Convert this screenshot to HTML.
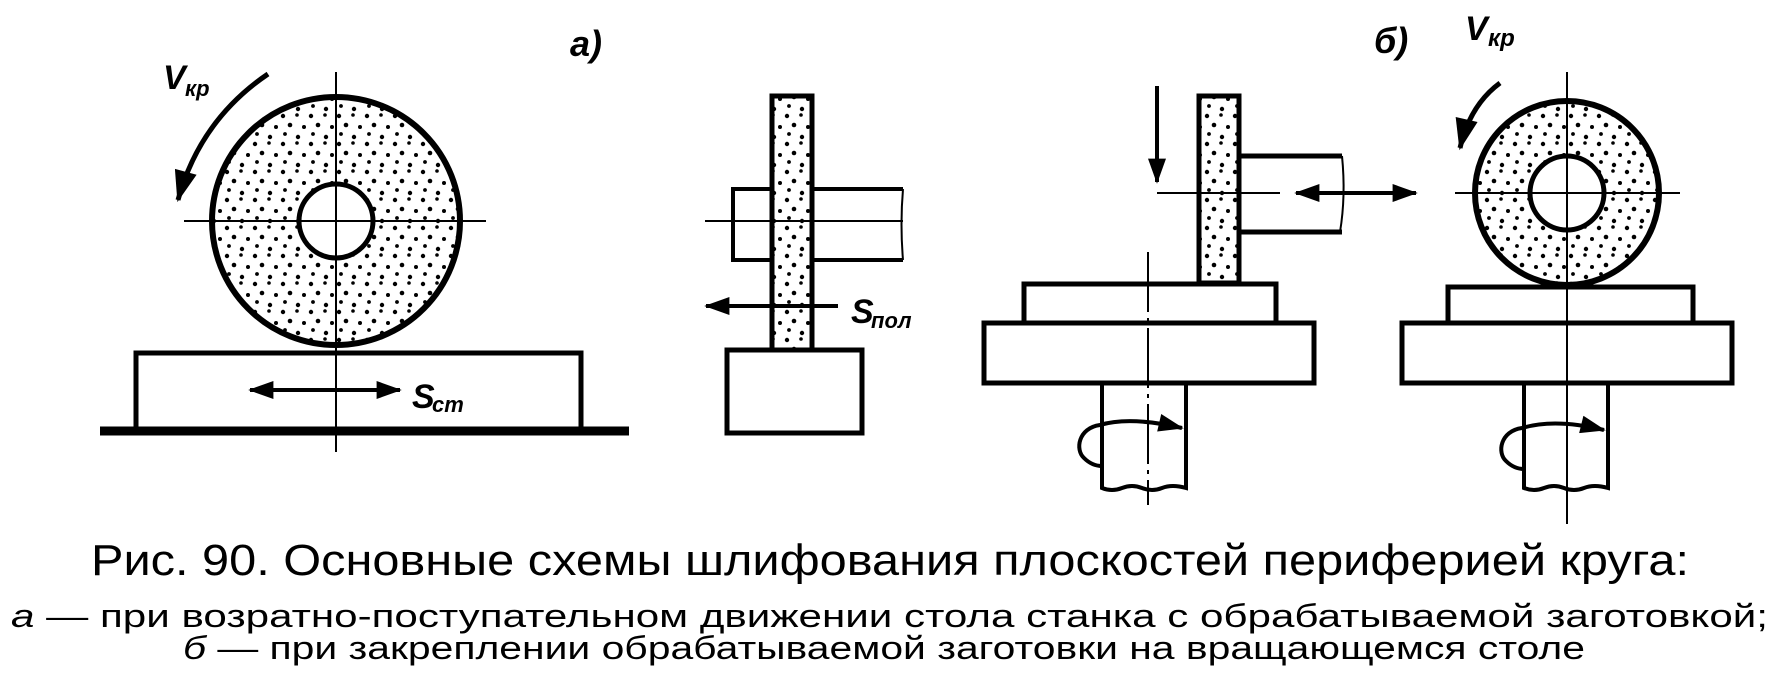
<!DOCTYPE html>
<html><head><meta charset="utf-8"><style>
html,body{margin:0;padding:0;background:#fff;width:1776px;height:688px;overflow:hidden}
svg{display:block}
text{font-family:"Liberation Sans",sans-serif;fill:#000}
</style></head><body>
<svg width="1776" height="688" viewBox="0 0 1776 688" xmlns="http://www.w3.org/2000/svg">
<defs>
<pattern id="dots" width="28" height="28" patternUnits="userSpaceOnUse">
<circle cx="3" cy="4" r="2.2"/><circle cx="17" cy="3" r="1.8"/><circle cx="10" cy="13" r="2.3"/>
<circle cx="24" cy="15" r="2"/><circle cx="5" cy="22" r="1.9"/><circle cx="18" cy="25" r="2.2"/>
</pattern>
<marker id="ah" viewBox="0 0 14 10" refX="13" refY="5" markerWidth="8" markerHeight="4.5" orient="auto-start-reverse" markerUnits="strokeWidth">
<path d="M0,0 L14,5 L0,10 Z"/></marker>
</defs>
<g fill="none" stroke="#000">
<!-- a) left wheel -->
<circle cx="336" cy="221" r="124" fill="url(#dots)" stroke-width="6"/>
<circle cx="336" cy="221" r="37" fill="#fff" stroke-width="5"/>
<line x1="184" y1="221" x2="486" y2="221" stroke-width="2"/>
<line x1="336" y1="72" x2="336" y2="452" stroke-width="2"/>
<rect x="136" y="353" width="445" height="78" stroke-width="5" fill="#fff"/>
<line x1="336" y1="350" x2="336" y2="452" stroke-width="2"/>
<line x1="100" y1="431" x2="629" y2="431" stroke-width="9"/>
<path d="M268,74 Q200,120 178,200" stroke-width="5" marker-end="url(#ah)"/>
<line x1="250" y1="390" x2="400" y2="390" stroke-width="4" marker-start="url(#ah)" marker-end="url(#ah)"/>
<!-- a) middle -->
<rect x="772" y="96" width="40" height="254" fill="url(#dots)" stroke-width="5"/>
<path d="M772,189 H733 V260 H772 M812,189 H903 M812,260 H903" stroke-width="4"/>
<path d="M903,189 q-3,35 0,71" stroke-width="2"/>
<line x1="705" y1="221" x2="903" y2="221" stroke-width="2"/>
<rect x="727" y="350" width="135" height="83" stroke-width="5" fill="#fff"/>
<line x1="838" y1="306" x2="706" y2="306" stroke-width="4" marker-end="url(#ah)"/>
<!-- b) left -->
<rect x="1199" y="96" width="40" height="187" fill="url(#dots)" stroke-width="5"/>
<path d="M1239,156 H1342 M1239,232 H1342" stroke-width="5"/>
<path d="M1342,156 q4,40 -2,76" stroke-width="2"/>
<line x1="1157" y1="86" x2="1157" y2="182" stroke-width="4" marker-end="url(#ah)"/>
<line x1="1157" y1="193" x2="1280" y2="193" stroke-width="2"/>
<line x1="1296" y1="193" x2="1416" y2="193" stroke-width="4" marker-start="url(#ah)" marker-end="url(#ah)"/>
<rect x="1024" y="284" width="252" height="39" stroke-width="5" fill="#fff"/>
<rect x="984" y="323" width="330" height="60" stroke-width="5" fill="#fff"/>
<path d="M1102,383 V488 q10,4 20,0 q10,-4 20,0 q10,4 20,0 q10,-4 24,0 V383" stroke-width="4"/>
<line x1="1148" y1="252" x2="1148" y2="505" stroke-width="2" stroke-dasharray="60,6,4,6"/>
<path d="M1100,425 C1078,428 1075,450 1084,458 C1090,464 1096,466 1102,466" stroke-width="4"/>
<path d="M1100,425 Q1130,416 1182,428" stroke-width="4" marker-end="url(#ah)"/>
<!-- b) right -->
<circle cx="1567" cy="193" r="92" fill="url(#dots)" stroke-width="6"/>
<circle cx="1567" cy="193" r="37" fill="#fff" stroke-width="5"/>
<line x1="1455" y1="193" x2="1680" y2="193" stroke-width="2"/>
<line x1="1567" y1="72" x2="1567" y2="524" stroke-width="2"/>
<rect x="1448" y="287" width="245" height="36" stroke-width="5" fill="#fff"/>
<rect x="1402" y="323" width="330" height="60" stroke-width="5" fill="#fff"/>
<path d="M1524,383 V488 q10,4 20,0 q10,-4 20,0 q10,4 20,0 q10,-4 24,0 V383" stroke-width="4"/>
<line x1="1567" y1="287" x2="1567" y2="524" stroke-width="2"/>
<path d="M1522,428 C1500,431 1497,453 1506,461 C1512,467 1518,469 1524,469" stroke-width="4"/>
<path d="M1522,428 Q1555,418 1604,430" stroke-width="4" marker-end="url(#ah)"/>
<path d="M1500,83 Q1470,105 1460,148" stroke-width="5" marker-end="url(#ah)"/>
</g>
<!-- labels -->
<g font-style="italic" font-weight="bold">
<text x="163" y="89" font-size="34">V</text><text x="185" y="96" font-size="22">кр</text>
<text x="570" y="56" font-size="36">а)</text>
<text x="412" y="408" font-size="34">S</text><text x="432" y="412" font-size="22">ст</text>
<text x="851" y="323" font-size="34">S</text><text x="871" y="328" font-size="22">пол</text>
<text x="1374" y="53" font-size="36">б)</text>
<text x="1465" y="40" font-size="34">V</text><text x="1488" y="46" font-size="24">кр</text>
</g>
<text x="91" y="575" font-size="44" textLength="1598" lengthAdjust="spacingAndGlyphs">Рис. 90. Основные схемы шлифования плоскостей периферией круга:</text>
<text x="11" y="627" font-size="32" textLength="1757" lengthAdjust="spacingAndGlyphs"><tspan font-style="italic">а</tspan> — при возратно-поступательном движении стола станка с обрабатываемой заготовкой;</text>
<text x="183" y="659" font-size="32" textLength="1402" lengthAdjust="spacingAndGlyphs"><tspan font-style="italic">б</tspan> — при закреплении обрабатываемой заготовки на вращающемся столе</text>
</svg>
</body></html>
